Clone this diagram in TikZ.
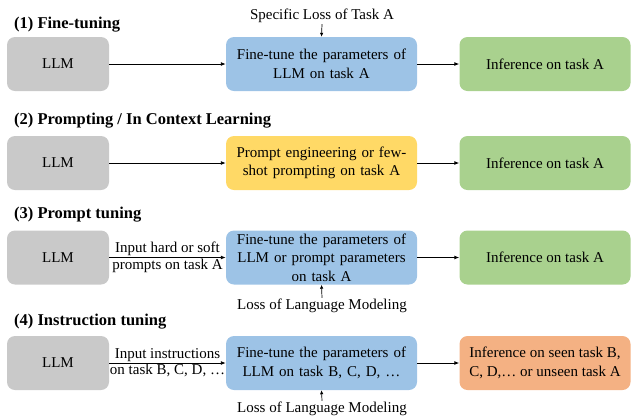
\documentclass[tikz,border=0pt]{standalone}
\usepackage{fontspec}
\setmainfont{Liberation Serif}
\usetikzlibrary{arrows.meta}
\definecolor{cgray}{HTML}{C9C9C9}
\definecolor{cblue}{HTML}{9DC3E6}
\definecolor{cgreen}{HTML}{A9D18E}
\definecolor{cyellow}{HTML}{FFD966}
\definecolor{corange}{HTML}{F4B183}
\begin{document}
\begin{tikzpicture}[x=1pt,y=-1pt,
  box/.style={rounded corners=8pt, minimum height=54pt, align=center, inner sep=1pt, font=\fontsize{15}{18.5}\selectfont},
  llm/.style={box, fill=cgray, minimum width=102pt},
  mid/.style={box, minimum width=191pt, text width=187pt},
  res/.style={box, fill=cgreen, minimum width=171pt},
  title/.style={anchor=west, inner sep=0pt, font=\fontsize{16.5}{19}\selectfont\bfseries},
  lbl/.style={font=\fontsize{15}{18}\selectfont},
  arr/.style={-{Latex[length=5pt,width=4pt]}, line width=0.9pt},
  sarr/.style={-{Latex[length=4pt,width=3.5pt]}, line width=0.7pt}]
\useasboundingbox (0,0) rectangle (631,416);
% row 1
\node[title] (t1) at (14,25) {(1) Fine-tuning};
\node[llm] (l1) at (58,64) {LLM};
\node[mid, fill=cblue] (m1) at (321.5,64) {Fine-tune the parameters of\\LLM on task A};
\node[res] (r1) at (545,64) {Inference on task A};
\node[lbl, inner sep=1pt] (s1) at (322,16) {Specific Loss of Task A};
\draw[arr] (l1) -- (m1);
\draw[arr] (m1) -- (r1);
\draw[sarr] (s1.south) -- (m1.north);
% row 2
\node[title] (t2) at (14,121) {(2) Prompting / In Context Learning};
\node[llm] (l2) at (58,163) {LLM};
\node[mid, fill=cyellow] (m2) at (321.5,163) {Prompt engineering or few-\\shot prompting on task A};
\node[res] (r2) at (545,163) {Inference on task A};
\draw[arr] (l2) -- (m2);
\draw[arr] (m2) -- (r2);
% row 3
\node[title] (t3) at (14,215) {(3) Prompt tuning};
\node[llm] (l3) at (58,257.5) {LLM};
\node[mid, fill=cblue] (m3) at (321.5,257.5) {Fine-tune the parameters of\\LLM or prompt parameters\\on task A};
\node[res] (r3) at (545,257.5) {Inference on task A};
\node[lbl, inner sep=1pt] (s3) at (322,306) {Loss of Language Modeling};
\draw[arr] (l3) -- node[lbl, above, inner sep=1pt] {Input hard or soft} node[lbl, below, inner sep=1pt] {prompts on task A} (m3);
\draw[arr] (m3) -- (r3);
\draw[sarr] (s3.north) -- (m3.south);
% row 4
\node[title] (t4) at (14,322) {(4) Instruction tuning};
\node[llm] (l4) at (58,363) {LLM};
\node[mid, fill=cblue] (m4) at (321.5,363) {Fine-tune the parameters of\\LLM on task B, C, D, \dots};
\node[box, fill=corange, minimum width=171pt] (r4) at (545,363) {Inference on seen task B,\\C, D,\dots{} or unseen task A};
\node[lbl, inner sep=1pt] (s4) at (322,409) {Loss of Language Modeling};
\draw[arr] (l4) -- node[lbl, above, inner sep=1pt] {Input instructions} node[lbl, below, inner sep=1pt] {on task B, C, D, \dots} (m4);
\draw[arr] (m4) -- (r4);
\draw[sarr] (s4.north) -- (m4.south);
\end{tikzpicture}
\end{document}
